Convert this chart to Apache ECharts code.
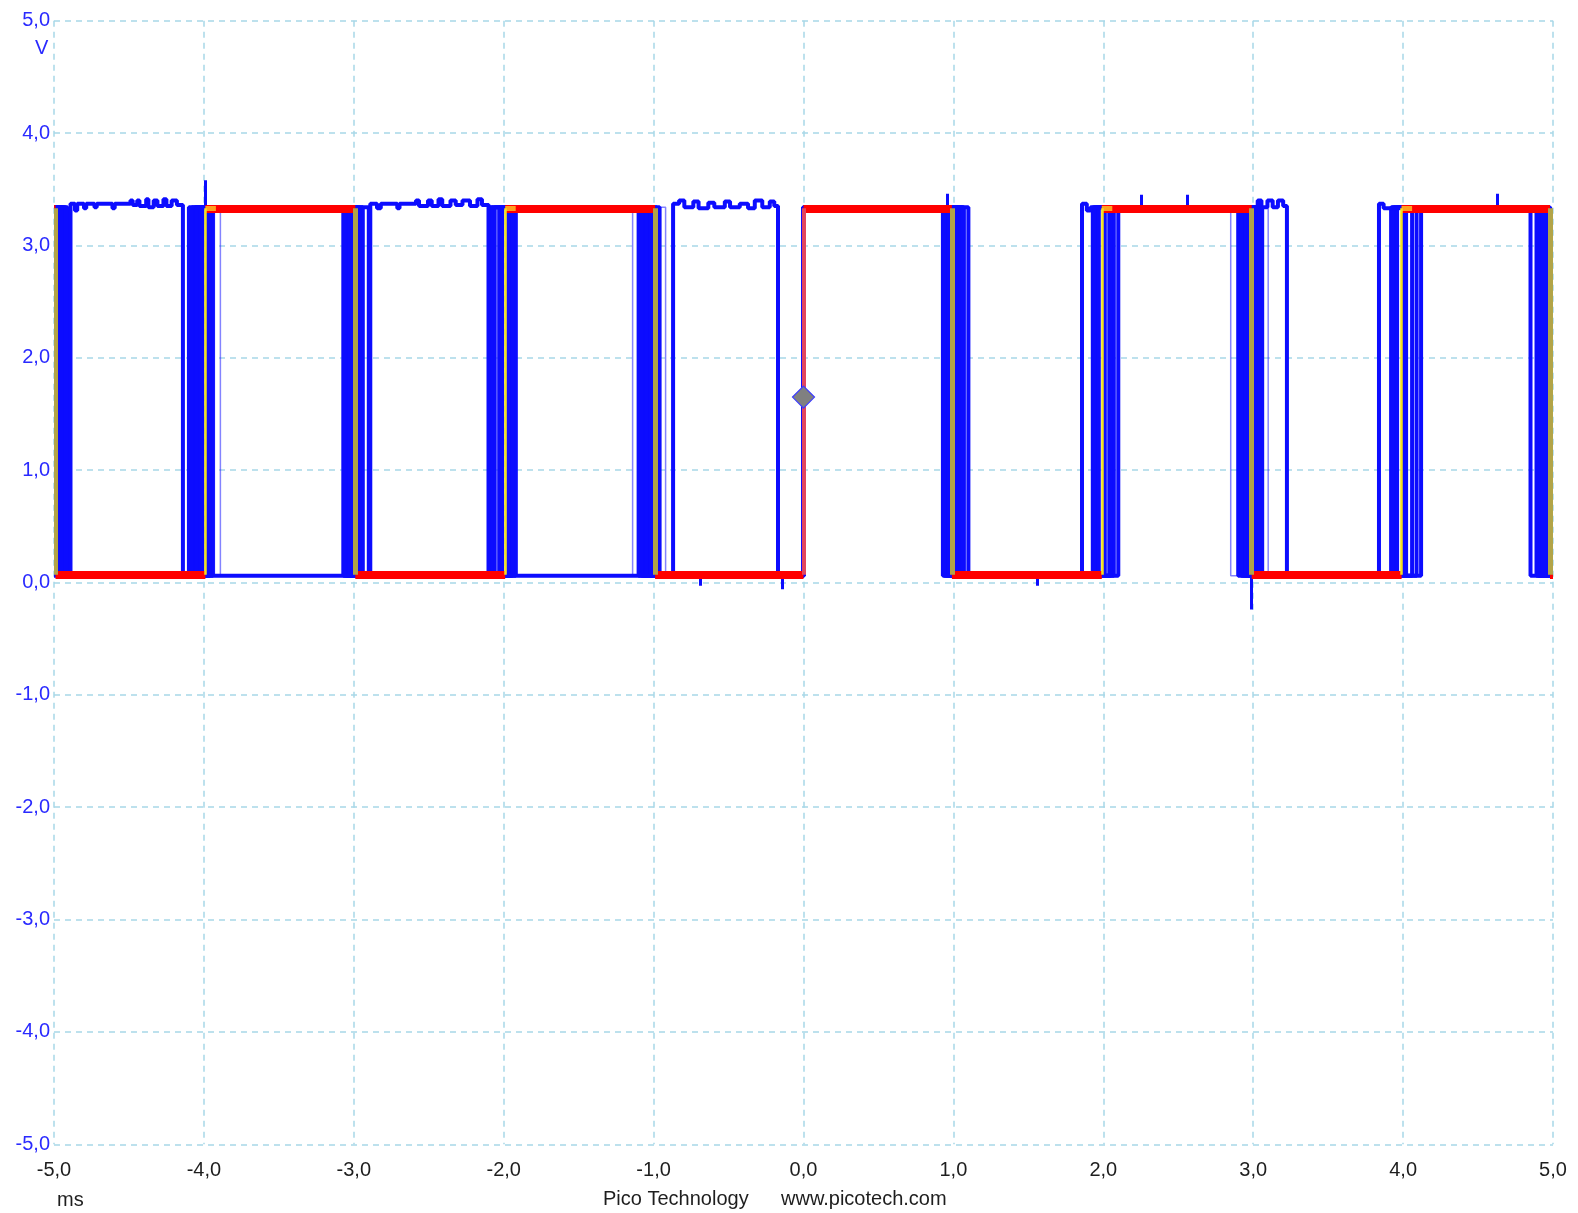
<!DOCTYPE html>
<html>
<head>
<meta charset="utf-8">
<title>Pico persistence</title>
<script src="https://cdn.jsdelivr.net/npm/echarts@6/dist/echarts.min.js"></script>
<style>
  html, body { margin: 0; padding: 0; background: #fff; }
  #chart { width: 1578px; height: 1213px; }
</style>
</head>
<body>
<div id="chart"></div>
<script>
// axis ticks (ms / V)
const timeTicks = [-5, -4, -3, -2, -1, 0, 1, 2, 3, 4, 5]
const voltTicks = [-5, -4, -3, -2, -1, 0, 1, 2, 3, 4, 5]

// signal levels (V)
const redHigh = 3.33
const redLow = 0.07
const blueHigh = 3.34
const blueLow = 0.06

// most frequent trace: edge times (ms), starts high at -5 ms
const redEdges = [-4.99, -3.99, -2.99, -1.99, -0.99, 0.0, 0.99, 1.99, 2.99, 3.99, 4.98]

// jittered captures, edge times (ms), each starts high
const blueEdgesA = [-4.98, -4.10, -3.07, -2.10, -1.10, 0.0, 0.93, 1.93, 2.90, 3.92, 4.89]
const blueEdgesB = [-4.93, -3.94, -2.90, -1.92, -0.96, 0.0, 1.10, 2.10, 3.06, 4.12, 4.97]
const blueEdgesC = [-4.96, -4.06, -3.05, -2.06, -1.07, 0.0, 0.95, 1.95, 2.93, 3.94, 4.91]
const blueEdgesD = [-4.95, -4.03, -3.03, -2.03, -1.04, 0.0, 0.97, 1.97, 2.95, 3.96, 4.93]
const blueEdgesE = [-4.91, -3.96, -2.94, -1.95, -1.02, 0.0, 1.04, 2.04, 3.03, 4.06, 4.95]
const blueEdgesF = [-4.94, -4.08, -2.96, -1.97, -0.98, 0.0, 1.07, 2.07, 3.04, 4.09, 4.96]
const blueEdgesG = [-4.97, -4.01, -3.01, -2.01, -1.01, 0.0, 1.01, 2.01, 3.01, 4.02, 4.98]
const blueEdgesH = [-4.92, -4.05, -3.06, -2.08, -1.08, 0.0, 0.94, 1.94, 2.92, 4.00, 4.90]
const blueEdgesI = [-4.95, -3.98, -2.98, -1.94, -1.05, 0.0, 1.02, 2.05, 2.97, 3.93, 4.94]
// rare captures
const thinEdgesA = [-4.97, -3.89, -2.95, -1.91, -1.14, 0.0, 1.0, 2.0, 2.85, 3.95, 4.97]
const thinEdgesB = [-4.97, -3.93, -2.89, -1.93, -0.92, 0.0, 1.0, 2.0, 3.10, 4.0, 4.99]

// out-of-phase noisy capture: [time ms, level V from that time on]
const noisyTrace = [
  [-5.0, 0.06], [-4.89, 3.37], [-4.86, 3.31], [-4.845, 3.37], [-4.80, 3.33], [-4.785, 3.37],
  [-4.73, 3.34], [-4.715, 3.37], [-4.61, 3.33], [-4.595, 3.37], [-4.49, 3.40], [-4.475, 3.36],
  [-4.445, 3.40], [-4.43, 3.35], [-4.385, 3.41], [-4.37, 3.34], [-4.335, 3.40], [-4.31, 3.35],
  [-4.27, 3.41], [-4.25, 3.35], [-4.215, 3.40], [-4.18, 3.36], [-4.14, 0.06],
  [-2.89, 3.37], [-2.845, 3.33], [-2.82, 3.37], [-2.71, 3.33], [-2.695, 3.37], [-2.585, 3.40],
  [-2.565, 3.35], [-2.505, 3.40], [-2.48, 3.35], [-2.435, 3.41], [-2.41, 3.35], [-2.355, 3.40],
  [-2.32, 3.36], [-2.275, 3.40], [-2.225, 3.35], [-2.175, 3.41], [-2.145, 3.36], [-2.10, 0.06],
  [-0.87, 3.37], [-0.83, 3.40], [-0.795, 3.34], [-0.735, 3.39], [-0.70, 3.33], [-0.635, 3.38],
  [-0.595, 3.34], [-0.525, 3.39], [-0.49, 3.34], [-0.425, 3.37], [-0.37, 3.33], [-0.325, 3.40],
  [-0.275, 3.34], [-0.225, 3.39], [-0.195, 3.35], [-0.17, 0.06],
  [0.0, 3.34], [1.06, 0.06], [1.858, 3.37], [1.89, 3.31], [1.915, 3.34],
  [3.03, 3.40], [3.055, 3.34], [3.095, 3.40], [3.13, 3.34], [3.165, 3.40], [3.20, 3.35],
  [3.225, 0.06], [3.839, 3.37], [3.87, 3.33], [3.90, 3.34], [4.85, 0.06], [5.0, 0.06]
]

// glitches: time (ms), base level, peak (V)
const spikeTimes = [-3.99, 0.96, 2.25, 2.56, 4.63, 2.99, -0.69, -0.14, 1.56]
const spikeBase = [3.36, 3.36, 3.36, 3.36, 3.36, 0.05, 0.05, 0.05, 0.05]
const spikePeak = [3.58, 3.46, 3.45, 3.45, 3.46, -0.24, -0.03, -0.06, -0.03]

// trigger point
const trigger = [[0.0, 1.65]]

function fmt(v) {
  return v.toFixed(1).replace('.', ',')
}

function stepTrace(edges, hi, lo) {
  let lvl = hi
  const pts = [[-5, hi]]
  edges.forEach(t => {
    lvl = lvl === hi ? lo : hi
    pts.push([t, lvl])
  })
  pts.push([5, lvl])
  return pts
}

function blueSeries(data, color, width, z) {
  return {
    type: 'line',
    step: 'end',
    data: data,
    showSymbol: false,
    silent: true,
    z: z,
    lineStyle: { color: color, width: width }
  }
}

// red flat segments and coloured edges
const bounds = [-5].concat(redEdges, [5])
const redSegs = []
const edgeSegs = []
const glowSegs = []
for (let i = 0; i < bounds.length - 1; i++) {
  const lvl = i % 2 === 0 ? redHigh : redLow
  redSegs.push({ coords: [[bounds[i], lvl], [bounds[i + 1], lvl]] })
}
redEdges.forEach((t, i) => {
  const rising = i % 2 === 1
  let style
  if (t === 0) style = { color: '#e2465e', width: 4 }
  else if (rising) style = { color: '#f4e21c', width: 2.5 }
  else style = { color: '#b2a448', width: 5 }
  edgeSegs.push({ coords: [[t, redLow], [t, redHigh]], lineStyle: style })
  if (rising && t !== 0) {
    glowSegs.push({ coords: [[t, redHigh], [t + 0.07, redHigh]] })
  }
})

const spikeSegs = spikeTimes.map((t, i) => ({ coords: [[t, spikeBase[i]], [t, spikePeak[i]]] }))

const axisCommon = {
  type: 'value',
  min: -5,
  max: 5,
  interval: 1,
  axisLine: { show: false },
  axisTick: { show: false },
  splitLine: {
    show: true,
    lineStyle: { color: '#a8d8e8', width: 1.5, type: [6, 5] }
  }
}

const blueSolid = '#0c0cff'
const blueFaint = 'rgba(30,30,255,0.55)'

const chart = echarts.init(document.getElementById('chart'))
chart.setOption({
  backgroundColor: '#ffffff',
  animation: false,
  grid: { left: 54, right: 25, top: 20.7, bottom: 68.7, outerBoundsMode: 'none' },
  xAxis: Object.assign({}, axisCommon, {
    axisLabel: {
      margin: 16,
      color: '#1e1e1e',
      fontSize: 20,
      fontFamily: 'Liberation Sans',
      formatter: fmt
    }
  }),
  yAxis: Object.assign({}, axisCommon, {
    axisLabel: {
      margin: 4,
      color: '#2a2aff',
      fontSize: 20,
      fontFamily: 'Liberation Sans',
      formatter: fmt
    }
  }),
  graphic: [
    { type: 'text', left: 35, top: 38, style: { text: 'V', fill: '#2a2aff', font: '20px "Liberation Sans"' } },
    { type: 'text', left: 57, top: 1190, style: { text: 'ms', fill: '#1e1e1e', font: '20px "Liberation Sans"' } },
    { type: 'text', left: 603, top: 1189, style: { text: 'Pico Technology', fill: '#1e1e1e', font: '20px "Liberation Sans"' } },
    { type: 'text', left: 781, top: 1189, style: { text: 'www.picotech.com', fill: '#1e1e1e', font: '20px "Liberation Sans"' } }
  ],
  series: [
    blueSeries(stepTrace(thinEdgesA, blueHigh, blueLow), blueFaint, 1.5, 1),
    blueSeries(stepTrace(thinEdgesB, blueHigh, blueLow), blueFaint, 1.5, 1),
    blueSeries(stepTrace(blueEdgesA, blueHigh, blueLow), blueSolid, 4, 2),
    blueSeries(stepTrace(blueEdgesB, blueHigh, blueLow), blueSolid, 4, 2),
    blueSeries(stepTrace(blueEdgesC, blueHigh, blueLow), blueSolid, 4, 2),
    blueSeries(stepTrace(blueEdgesD, blueHigh, blueLow), blueSolid, 4, 2),
    blueSeries(stepTrace(blueEdgesE, blueHigh, blueLow), blueSolid, 4, 2),
    blueSeries(stepTrace(blueEdgesF, blueHigh, blueLow), blueSolid, 4, 2),
    blueSeries(stepTrace(blueEdgesG, blueHigh, blueLow), blueSolid, 4, 2),
    blueSeries(stepTrace(blueEdgesH, blueHigh, blueLow), blueSolid, 4, 2),
    blueSeries(stepTrace(blueEdgesI, blueHigh, blueLow), blueSolid, 4, 2),
    blueSeries(noisyTrace, blueSolid, 4, 2),
    {
      type: 'lines',
      coordinateSystem: 'cartesian2d',
      silent: true,
      z: 3,
      data: spikeSegs,
      lineStyle: { color: blueSolid, width: 3, opacity: 1 }
    },
    {
      type: 'lines',
      coordinateSystem: 'cartesian2d',
      silent: true,
      z: 4,
      data: redSegs,
      lineStyle: { color: '#ff0000', width: 8, opacity: 1 }
    },
    {
      type: 'lines',
      coordinateSystem: 'cartesian2d',
      silent: true,
      z: 5,
      data: glowSegs,
      lineStyle: { color: '#ffb020', width: 5, opacity: 0.9 }
    },
    {
      type: 'lines',
      coordinateSystem: 'cartesian2d',
      silent: true,
      z: 6,
      data: edgeSegs,
      lineStyle: { opacity: 1 }
    },
    {
      type: 'scatter',
      data: trigger,
      symbol: 'diamond',
      symbolSize: 22,
      silent: true,
      z: 7,
      itemStyle: { color: '#808080', borderColor: '#3c3cff', borderWidth: 1.2, opacity: 1 }
    }
  ]
})
</script>
</body>
</html>
